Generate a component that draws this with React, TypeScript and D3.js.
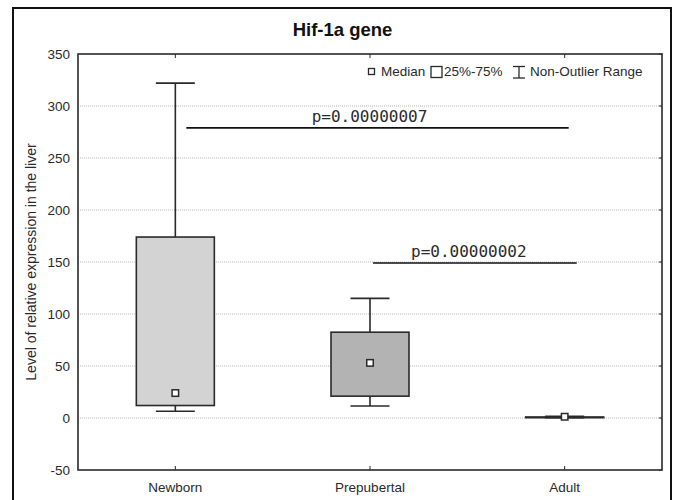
import React from "react";
import * as d3 from "d3";

const categories = ["Newborn", "Prepubertal", "Adult"];
const whiskerLow = [6.5, 11.5, 0.2];
const q1 = [12, 21, 0.3];
const medians = [24, 53, 1.2];
const q3 = [174, 82.5, 1.0];
const whiskerHigh = [322, 115, 1.6];
const boxFills = ["#d3d3d3", "#b3b3b3", "#d3d3d3"];
const yTicks = [-50, 0, 50, 100, 150, 200, 250, 300, 350];
const comparisons = [
  { from: "Newborn", to: "Adult", y: 279, label: "p=0.00000007" },
  { from: "Prepubertal", to: "Adult", y: 149, label: "p=0.00000002" },
];
const title = "Hif-1a gene";
const yLabel = "Level of relative expression in the liver";

const W = 674;
const H = 500;
const plot = { left: 78, right: 662, top: 54, bottom: 470 };
const FONT = "Arial, 'Liberation Sans', sans-serif";
const MONO = "'DejaVu Sans Mono', 'Liberation Mono', monospace";
const INK = "#2a2a2a";

export default function App() {
  const x = d3
    .scalePoint<string>()
    .domain(categories)
    .range([plot.left, plot.right])
    .padding(0.5);
  const y = d3.scaleLinear().domain([-50, 350]).range([plot.bottom, plot.top]);
  const boxW = 78;
  const capW = 39;
  const med = 6.5;

  return (
    <svg
      width={W}
      height={H}
      style={{ position: "absolute", left: 0, top: 0, background: "#fff" }}
    >
      <rect x={0} y={0} width={W} height={H} fill="#fff" />
      {/* outer frame */}
      <rect x={13} y={8} width={658} height={520} fill="none" stroke="#111" strokeWidth={2} />
      {/* title */}
      <text
        x={342.5}
        y={36}
        textAnchor="middle"
        fontFamily={FONT}
        fontWeight="bold"
        fontSize={18.5}
        fill="#111"
      >
        {title}
      </text>
      {/* gridlines */}
      {yTicks
        .filter((t) => t !== -50 && t !== 350)
        .map((t) => (
          <line
            key={"g" + t}
            x1={plot.left}
            x2={plot.right}
            y1={y(t)}
            y2={y(t)}
            stroke="#b8b8b8"
            strokeWidth={1}
            strokeDasharray="1,1"
          />
        ))}
      {/* tick labels */}
      {yTicks.map((t) => (
        <text
          key={"t" + t}
          x={70}
          y={y(t) + 5}
          textAnchor="end"
          fontFamily={FONT}
          fontSize={13.5}
          fill={INK}
        >
          {t}
        </text>
      ))}
      {/* right ticks */}
      {yTicks.map((t) => (
        <line key={"rt" + t} x1={plot.right - 3} x2={plot.right} y1={y(t)} y2={y(t)} stroke={INK} />
      ))}
      {/* category ticks & labels */}
      {categories.map((c) => (
        <g key={"c" + c}>
          <line x1={x(c)} x2={x(c)} y1={plot.bottom} y2={plot.bottom - 4} stroke={INK} />
          <line x1={x(c)} x2={x(c)} y1={plot.top} y2={plot.top + 4} stroke={INK} />
          <text
            x={x(c)}
            y={plot.bottom + 22}
            textAnchor="middle"
            fontFamily={FONT}
            fontSize={13.5}
            fill={INK}
          >
            {c}
          </text>
        </g>
      ))}
      {/* y label */}
      <text
        transform={`translate(36,${(plot.top + plot.bottom) / 2}) rotate(-90)`}
        textAnchor="middle"
        fontFamily={FONT}
        fontSize={14}
        fill={INK}
      >
        {yLabel}
      </text>
      {/* boxes */}
      {categories.map((c, i) => {
        const cx = x(c) as number;
        return (
          <g key={"b" + c} stroke={INK} strokeWidth={1.6}>
            <line x1={cx} x2={cx} y1={y(whiskerHigh[i])} y2={y(q3[i])} />
            <line x1={cx} x2={cx} y1={y(q1[i])} y2={y(whiskerLow[i])} />
            <line x1={cx - capW / 2} x2={cx + capW / 2} y1={y(whiskerHigh[i])} y2={y(whiskerHigh[i])} />
            <line x1={cx - capW / 2} x2={cx + capW / 2} y1={y(whiskerLow[i])} y2={y(whiskerLow[i])} />
            <rect
              x={cx - boxW / 2}
              y={y(q3[i])}
              width={boxW}
              height={Math.max(0.5, y(q1[i]) - y(q3[i]))}
              fill={boxFills[i]}
            />
            <rect
              x={cx - med / 2}
              y={y(medians[i]) - med / 2}
              width={med}
              height={med}
              fill="#fff"
              strokeWidth={1.5}
            />
          </g>
        );
      })}
      {/* comparisons */}
      {comparisons.map((cmp, i) => {
        const x1 = (x(cmp.from) as number) + (i === 0 ? 11 : 3);
        const x2 = (x(cmp.to) as number) + (i === 0 ? 4 : 12);
        return (
          <g key={"p" + i}>
            <line x1={x1} x2={x2} y1={y(cmp.y)} y2={y(cmp.y)} stroke="#111" strokeWidth={1.6} />
            <text
              x={(x1 + x2) / 2 - (i === 0 ? 8 : 6)}
              y={y(cmp.y) - 6}
              textAnchor="middle"
              fontFamily={MONO}
              fontSize={16}
              fill={INK}
            >
              {cmp.label}
            </text>
          </g>
        );
      })}
      {/* legend */}
      <g fontFamily={FONT} fontSize={13.5} fill={INK}>
        <rect x={368.5} y={68.5} width={6} height={6} fill="#fff" stroke={INK} strokeWidth={1.3} />
        <text x={381} y={76}>Median</text>
        <rect x={431} y={66.5} width={11} height={11} fill="#fff" stroke={INK} strokeWidth={1.3} />
        <text x={444} y={76}>25%-75%</text>
        <line x1={513} x2={525} y1={66.5} y2={66.5} stroke={INK} strokeWidth={1.3} />
        <line x1={513} x2={525} y1={78} y2={78} stroke={INK} strokeWidth={1.3} />
        <line x1={519} x2={519} y1={66.5} y2={78} stroke={INK} strokeWidth={1.3} />
        <text x={530} y={76}>Non-Outlier Range</text>
      </g>
      {/* plot frame */}
      <rect
        x={plot.left}
        y={plot.top}
        width={plot.right - plot.left}
        height={plot.bottom - plot.top}
        fill="none"
        stroke={INK}
        strokeWidth={1.6}
      />
    </svg>
  );
}
